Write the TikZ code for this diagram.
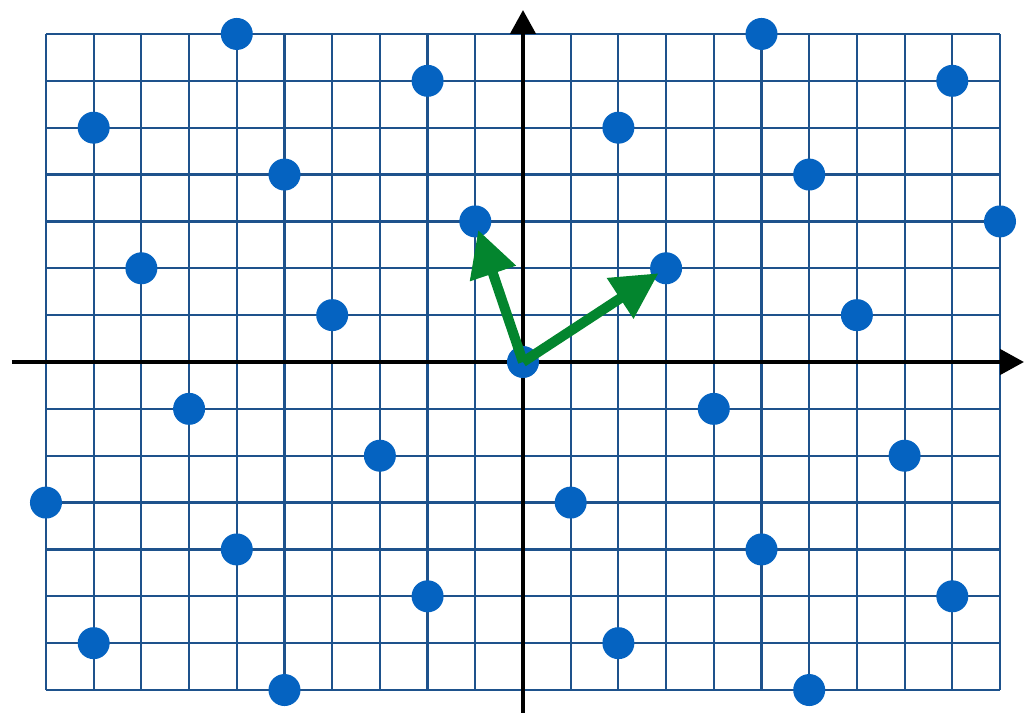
\documentclass[tikz,border=0pt]{standalone}
\usetikzlibrary{arrows.meta}
\definecolor{gridblue}{RGB}{30,82,140}
\definecolor{dotblue}{RGB}{5,99,193}
\definecolor{vecgreen}{RGB}{3,133,46}
\tikzset{
  gridline/.style={draw=gridblue, line width=2.2pt},
  axisline/.style={draw=black, line width=4.5pt, -{Triangle[length=24pt,width=25pt]}},
  latticedot/.style={circle, fill=dotblue, minimum size=32pt, inner sep=0pt},
  basisvec/.style={draw=vecgreen, line width=10pt, shorten >=9pt, line cap=butt, -{Triangle[length=46pt 0 0,width=46pt 0 0]}}
}
\begin{document}
\begin{tikzpicture}[x=47.7pt, y=46.86pt]
\useasboundingbox (-10.964,-7.490) rectangle (10.503,7.725);
\draw[gridline, xstep=1, ystep=1] (-10,-7) grid (10,7);
\coordinate (xl) at (-10.713,0);
\coordinate (xr) at (10.503,0);
\coordinate (yb) at (0,-7.49);
\coordinate (yt) at (0,7.512);
\draw[axisline] (xl) -- (xr);
\draw[axisline] (yb) -- (yt);
\foreach \px/\py [count=\k] in {-10/-3,-9/5,-9/-6,-8/2,-7/-1,-6/7,-6/-4,-5/4,-5/-7,-4/1,-3/-2,-2/6,-2/-5,-1/3,1/-3,2/5,2/-6,3/2,4/-1,5/7,5/-4,6/4,6/-7,7/1,8/-2,9/6,9/-5,10/3}
  \node[latticedot] (p\k) at (\px,\py) {};
\node[latticedot] (o) at (0,0) {};
\draw[basisvec] (o.center) -- (p14.center);
\draw[basisvec] (o.center) -- (p18.center);
\end{tikzpicture}
\end{document}
